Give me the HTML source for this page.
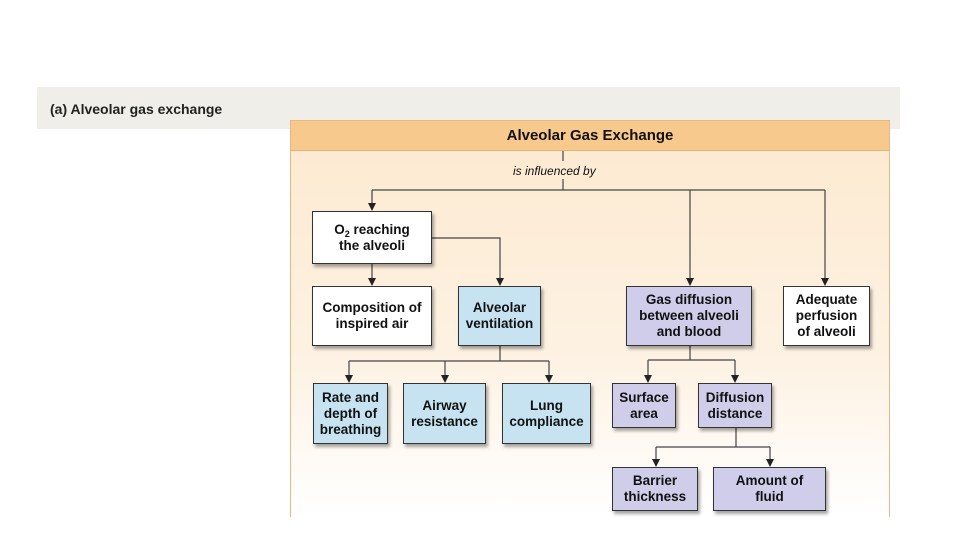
<!DOCTYPE html>
<html><head><meta charset="utf-8"><style>
body{margin:0;width:960px;height:540px;background:#fff;position:relative;overflow:hidden;font-family:"Liberation Sans",Arial,sans-serif}
.band{position:absolute;left:37px;top:87px;width:863px;height:42px;background:#efeee9}
.lbl{position:absolute;left:50px;top:101px;font-size:14px;font-weight:bold;color:#222}
.frame{position:absolute;left:290px;top:120px;width:598px;height:396px;border:1px solid #e8b882;border-bottom:none;background:linear-gradient(#fde9cf,#fdf2e3 60%,#fff)}
.hdr{position:absolute;left:291px;top:121px;width:598px;height:29px;background:#f8c98c;border-bottom:1px solid #e7b476;font-weight:bold;font-size:15px;text-align:center;line-height:30px;color:#111}
.b{position:absolute;box-sizing:border-box;border:1.5px solid #333;display:flex;align-items:center;justify-content:center;text-align:center;font-weight:bold;font-size:13.5px;line-height:16px;color:#111;box-shadow:2px 3px 3px rgba(0,0,0,.35)}
.w{background:#fff}.bl{background:#c7e3f1}.pu{background:#cfcde9}
sub{font-size:9px;line-height:0;vertical-align:-3px}
svg{position:absolute;left:0;top:0}
</style></head><body>
<div class="band"></div><div class="lbl">(a) Alveolar gas exchange</div>
<div class="frame"></div>
<div class="hdr">Alveolar Gas Exchange</div>
<div style="position:absolute;left:513px;top:164px;font-size:12px;font-style:italic;color:#111">is influenced by</div>
<svg width="960" height="540">
<g stroke="#444" stroke-width="1.2" fill="none">
<path d="M563 151V161M563 179V190M372 190H825"/>
<path d="M372 190V204M690 190V279M825 190V279M372 264V279M432 238H500V279"/>
<path d="M500 346V361M349 361H549M349 361V376M445 361V376M549 361V376"/>
<path d="M690 346V360M648 360H735M648 360V376M735 360V376"/>
<path d="M736 428V447M656 447H770M656 447V460M770 447V460"/>
</g>
<g fill="#222">
<path d="M368 203h8l-4 8z"/><path d="M686 278h8l-4 8z"/><path d="M821 278h8l-4 8z"/><path d="M368 278h8l-4 8z"/><path d="M496 278h8l-4 8z"/>
<path d="M345 375h8l-4 8z"/><path d="M441 375h8l-4 8z"/><path d="M545 375h8l-4 8z"/>
<path d="M644 375h8l-4 8z"/><path d="M731 375h8l-4 8z"/>
<path d="M652 459h8l-4 8z"/><path d="M766 459h8l-4 8z"/>
</g></svg>
<div class="b w" style="left:312px;top:211px;width:120px;height:53px"><span>O<sub>2</sub> reaching<br>the alveoli</span></div>
<div class="b w" style="left:312px;top:286px;width:120px;height:60px"><span>Composition of<br>inspired air</span></div>
<div class="b bl" style="left:458px;top:286px;width:83px;height:60px"><span>Alveolar<br>ventilation</span></div>
<div class="b bl" style="left:313px;top:383px;width:75px;height:61px"><span>Rate and<br>depth of<br>breathing</span></div>
<div class="b bl" style="left:403px;top:383px;width:83px;height:61px"><span>Airway<br>resistance</span></div>
<div class="b bl" style="left:502px;top:383px;width:89px;height:61px"><span>Lung<br>compliance</span></div>
<div class="b pu" style="left:626px;top:286px;width:126px;height:60px"><span>Gas diffusion<br>between alveoli<br>and blood</span></div>
<div class="b w" style="left:783px;top:286px;width:87px;height:60px"><span>Adequate<br>perfusion<br>of alveoli</span></div>
<div class="b pu" style="left:612px;top:383px;width:64px;height:45px"><span>Surface<br>area</span></div>
<div class="b pu" style="left:698px;top:383px;width:74px;height:45px"><span>Diffusion<br>distance</span></div>
<div class="b pu" style="left:612px;top:467px;width:86px;height:44px"><span>Barrier<br>thickness</span></div>
<div class="b pu" style="left:713px;top:467px;width:113px;height:44px"><span>Amount of<br>fluid</span></div>
</body></html>
